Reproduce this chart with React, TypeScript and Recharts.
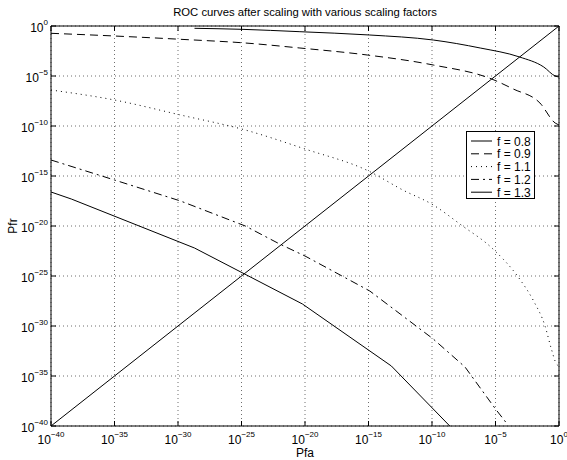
import { CartesianGrid, Label, Legend, Line, LineChart, XAxis, YAxis } from 'recharts'

// all values are log10 of the probability
const TICKS = [-40, -35, -30, -25, -20, -15, -10, -5, 0]

const F08_PFA = [-28.7, -25, -20.4, -14.9, -9.9, -6.2, -3.1, -1.2, -0.3, 0]
const F08_PFR = [-0.23, -0.33, -0.57, -0.9, -1.4, -2.2, -3.1, -4.1, -5.0, -5.1]

const F09_PFA = [-40, -35, -29.8, -24.7, -20.4, -15.1, -9.9, -5.3, -3.6, -1.5, -0.3, 0]
const F09_PFR = [-0.73, -1.0, -1.33, -1.7, -2.2, -2.9, -3.9, -5.3, -6.3, -7.7, -9.7, -9.9]

const F11_PFA = [-40, -35, -29.8, -24.7, -20, -15, -12.3, -9.9, -7.7, -5.2, -3.1, -2.0, -1.1, -0.6, -0.2, 0]
const F11_PFR = [-6.4, -7.4, -8.9, -10.4, -12.3, -14.5, -16.4, -17.9, -19.9, -22.3, -25.3, -27.5, -30.0, -32.3, -33.8, -34.0]

const F12_PFA = [-40, -35, -29.8, -24.7, -22, -20, -14.9, -9.9, -7.4, -5, -4.2]
const F12_PFR = [-13.4, -15.4, -17.5, -20.0, -21.8, -23.0, -26.5, -31.3, -34.1, -38.3, -39.6]

const F13_PFA = [-40, -38.4, -28.7, -20.2, -13.2, -8.6]
const F13_PFR = [-16.6, -17.3, -22.2, -27.8, -34.0, -40]

const EQ_PFA = [-40, 0]
const EQ_PFR = [-40, 0]

const zip = (xs: number[], ys: number[]) => xs.map((x, i) => ({ x, y: ys[i] }))

const INK = '#000000'
const GRID = '#6e6e6e'
const FONT = '"Liberation Sans", Arial, Helvetica, sans-serif'

const SERIES = [
  { name: 'f = 0.8', data: zip(F08_PFA, F08_PFR), dash: undefined, curve: 'monotoneX' },
  { name: 'f = 0.9', data: zip(F09_PFA, F09_PFR), dash: '8 5', curve: 'monotoneX' },
  { name: 'f = 1.1', data: zip(F11_PFA, F11_PFR), dash: '1 4', curve: 'monotoneX' },
  { name: 'f = 1.2', data: zip(F12_PFA, F12_PFR), dash: '8 4 2 4', curve: 'linear' },
  { name: 'f = 1.3', data: zip(F13_PFA, F13_PFR), dash: undefined, curve: 'linear' },
]

const expText = (v: number) => (v < 0 ? `\u2212${-v}` : `${v}`)

function Pow({ x, y, v, anchor }: { x: number; y: number; v: number; anchor: 'start' | 'middle' | 'end' }) {
  return (
    <text x={x} y={y} textAnchor={anchor} fontFamily={FONT} fill={INK}>
      <tspan fontSize={12}>10</tspan>
      <tspan fontSize={8} dy={-7}>
        {expText(v)}
      </tspan>
    </text>
  )
}

function BottomTick({ x, y, payload }: any) {
  return (
    <g>
      <line x1={x} y1={y} x2={x} y2={y - 5} stroke={INK} />
      <Pow x={x} y={y + 17.5} v={payload.value} anchor="middle" />
    </g>
  )
}

function TopTick({ x, y }: any) {
  return <line x1={x} y1={y} x2={x} y2={y + 5} stroke={INK} />
}

function LeftTick({ x, y, payload }: any) {
  return (
    <g>
      <line x1={x} y1={y} x2={x + 5} y2={y} stroke={INK} />
      <Pow x={x - 3} y={y + 6} v={payload.value} anchor="end" />
    </g>
  )
}

function RightTick({ x, y }: any) {
  return <line x1={x} y1={y} x2={x - 5} y2={y} stroke={INK} />
}

function LegendBox() {
  return (
    <div style={{ border: `1px solid ${INK}`, background: '#fff', width: 67, height: 66 }}>
      <svg width={67} height={66} style={{ display: 'block', overflow: 'visible' }}>
        {SERIES.map((s, i) => {
          const cy = 9 + i * 12.8
          return (
            <g key={s.name}>
              <line x1={4} x2={25} y1={cy} y2={cy} stroke={INK} strokeDasharray={s.dash} />
              <text x={30} y={cy + 4.5} fontSize={12} fontFamily={FONT} fill={INK}>
                {s.name}
              </text>
            </g>
          )
        })}
      </svg>
    </div>
  )
}

export default function App() {
  return (
    <div style={{ position: 'absolute', left: 0, top: 0, background: '#fff' }}>
      <LineChart width={567} height={460} margin={{ top: 0, right: 7, bottom: 0, left: 0 }}>
        <CartesianGrid stroke={GRID} strokeDasharray="1 3" />
        <XAxis
          dataKey="x"
          type="number"
          domain={[-40, 0]}
          ticks={TICKS}
          allowDataOverflow
          height={34}
          tickSize={0}
          tickMargin={0}
          tickLine={false}
          axisLine={{ stroke: INK }}
          tick={<BottomTick />}
        >
          <Label
            content={({ viewBox }: any) => (
              <text x={viewBox.x + viewBox.width / 2} y={viewBox.y + 31} textAnchor="middle" fontSize={12} fontFamily={FONT} fill={INK}>
                Pfa
              </text>
            )}
          />
        </XAxis>
        <XAxis
          xAxisId="top"
          orientation="top"
          dataKey="x"
          type="number"
          domain={[-40, 0]}
          ticks={TICKS}
          allowDataOverflow
          height={26}
          tickSize={0}
          tickMargin={0}
          tickLine={false}
          axisLine={{ stroke: INK }}
          tick={<TopTick />}
        >
          <Label
            content={({ viewBox }: any) => (
              <text x={viewBox.x + viewBox.width / 2} y={viewBox.y + 16} textAnchor="middle" fontSize={11.3} fontFamily={FONT} fill={INK}>
                ROC curves after scaling with various scaling factors
              </text>
            )}
          />
        </XAxis>
        <YAxis
          dataKey="y"
          type="number"
          domain={[-40, 0]}
          ticks={TICKS}
          allowDataOverflow
          width={51}
          tickSize={0}
          tickMargin={0}
          tickLine={false}
          axisLine={{ stroke: INK }}
          tick={<LeftTick />}
        >
          <Label
            content={({ viewBox }: any) => {
              const cx = 17
              const cy = viewBox.y + viewBox.height / 2
              return (
                <text x={cx} y={cy} transform={`rotate(-90 ${cx} ${cy})`} textAnchor="middle" fontSize={12} fontFamily={FONT} fill={INK}>
                  Pfr
                </text>
              )
            }}
          />
        </YAxis>
        <YAxis
          yAxisId="right"
          orientation="right"
          type="number"
          domain={[-40, 0]}
          ticks={TICKS}
          allowDataOverflow
          width={1}
          tickSize={0}
          tickMargin={0}
          tickLine={false}
          axisLine={{ stroke: INK }}
          tick={<RightTick />}
        />
        <Legend
          layout="vertical"
          align="center"
          verticalAlign="middle"
          content={<LegendBox />}
          wrapperStyle={{ position: 'absolute', left: 466, top: 131, width: 69, height: 68 }}
        />
        <Line
          data={zip(EQ_PFA, EQ_PFR)}
          dataKey="y"
          type="linear"
          stroke={INK}
          strokeWidth={1}
          dot={false}
          activeDot={false}
          legendType="none"
          isAnimationActive={false}
        />
        {SERIES.map((s) => (
          <Line
            key={s.name}
            name={s.name}
            data={s.data}
            dataKey="y"
            type={s.curve as any}
            stroke={INK}
            strokeWidth={1}
            strokeDasharray={s.dash}
            dot={false}
            activeDot={false}
            isAnimationActive={false}
          />
        ))}
      </LineChart>
    </div>
  )
}
